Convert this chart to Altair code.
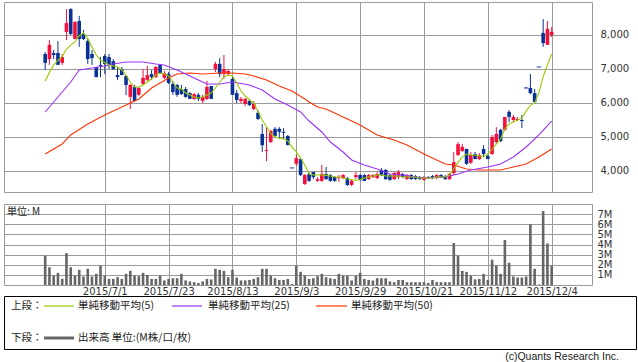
import altair as alt
import pandas as pd

# ---------------- data ----------------
date_labels = ["2015/7/1", "2015/7/23", "2015/8/13", "2015/9/3",
               "2015/9/29", "2015/10/21", "2015/11/12", "2015/12/4"]
tick_index = [14, 29, 44, 59, 74, 89, 104, 119]
price_ticks = [4000, 5000, 6000, 7000, 8000]
volume_ticks = [1, 2, 3, 4, 5, 6, 7]

opens = [7440, 7290, 7470, 7470, 7180, 8090, 8760, 7880, 8410, 8030,
         7820, 7440, 7060, 7120, 7380, 7350, 7230, 6820, 7000, 6790,
         6180, 6470, 6240, 6560, 6680, 6850, 6760, 7120, 6740, 6850,
         6560, 6530, 6410, 6410, 6290, 6120, 6240, 6060, 6120, 6500,
         7000, 7150, 6850, 6850, 6710, 6290, 6060, 5970, 6060, 5820,
         5710, 5090, 4590, 4850, 5240, 5240, 5150, 5030, 4090, 4210,
         4350, 3620, 3910, 3970, 3710, 3710, 3910, 3880, 3820, 3790,
         3790, 3790, 3590, 3820, 3880, 3880, 3760, 3820, 3790, 4030,
         4030, 3880, 3760, 3820, 3910, 3760, 3880, 3850, 3820, 3740,
         3820, 3850, 3790, 3880, 3850, 3760, 3940, 4470, 4590, 4650,
         4240, 4500, 4350, 4650, 4440, 4500, 4850, 5210, 5210, 5740,
         5500, 5500, 5500, 6440, 6440, 6290, 7060, 8060, 7710, 8000]
highs = [7500, 7850, 7560, 7820, 7440, 8760, 8790, 8410, 8560, 8150,
         7880, 7560, 7060, 7350, 7440, 7440, 7290, 7060, 7060, 6820,
         6560, 6530, 6470, 7000, 7090, 6970, 7090, 7150, 6940, 6910,
         6650, 6560, 6530, 6470, 6320, 6290, 6290, 6240, 6650, 6500,
         7210, 7320, 7410, 7000, 6760, 6380, 6180, 6150, 6120, 6060,
         5790, 5380, 5290, 5210, 5290, 5290, 5260, 5060, 4090, 4470,
         4380, 3910, 3970, 3970, 3820, 4180, 4120, 3910, 3850, 3880,
         3910, 3820, 3740, 3970, 3910, 3910, 3910, 3910, 3970, 4090,
         4060, 3910, 3970, 4030, 3940, 3910, 3910, 3880, 3850, 3850,
         3850, 3880, 3910, 3910, 3880, 3940, 4560, 4850, 4790, 4650,
         4560, 4560, 4530, 4760, 4500, 5060, 5290, 5240, 5590, 5790,
         5650, 5590, 5650, 6470, 6850, 6410, 7060, 8470, 8410, 8240]
lows = [6970, 7120, 7290, 7120, 7120, 7850, 8000, 7880, 7650, 7850,
        7150, 7120, 6760, 6760, 6850, 7000, 6970, 6680, 6820, 6230,
        5820, 6030, 6210, 6530, 6650, 6680, 6740, 6850, 6700, 6560,
        6240, 6180, 6240, 6150, 6120, 6090, 6060, 6000, 6090, 6120,
        6910, 6760, 6710, 6820, 6240, 6000, 6000, 5910, 5910, 5790,
        5500, 4560, 4290, 4820, 5000, 4940, 4940, 4760, 4090, 4150,
        3850, 3590, 3680, 3760, 3680, 3680, 3740, 3680, 3680, 3680,
        3760, 3560, 3560, 3760, 3710, 3700, 3740, 3790, 3760, 3850,
        3740, 3710, 3740, 3760, 3790, 3740, 3740, 3740, 3740, 3710,
        3760, 3760, 3760, 3790, 3740, 3740, 3880, 4440, 4560, 4180,
        4210, 4350, 4320, 4410, 4350, 4470, 4790, 4850, 5180, 5440,
        5440, 5470, 5260, 6440, 6260, 6000, 7060, 7650, 7710, 7940]
closes = [7180, 7710, 7410, 7120, 7350, 8350, 8030, 8380, 7880, 7880,
          7290, 7320, 6760, 7090, 7150, 7120, 7000, 6760, 6820, 6530,
          6530, 6060, 6440, 6740, 6820, 6760, 7060, 6880, 6880, 6590,
          6320, 6240, 6260, 6180, 6120, 6260, 6120, 6180, 6470, 6120,
          7150, 6850, 7000, 6940, 6240, 6090, 6120, 6120, 5940, 5970,
          5530, 4760, 4620, 5180, 5030, 5150, 5120, 4760, 4090, 4380,
          3880, 3880, 3710, 3820, 3760, 3910, 3760, 3710, 3710, 3820,
          3880, 3590, 3710, 3880, 3740, 3710, 3880, 3880, 3910, 3880,
          3760, 3740, 3940, 3970, 3820, 3880, 3760, 3760, 3760, 3820,
          3790, 3790, 3880, 3820, 3760, 3910, 4260, 4790, 4710, 4210,
          4470, 4350, 4470, 4500, 4350, 5000, 5090, 4880, 5590, 5590,
          5590, 5530, 5470, 6440, 6290, 6030, 7060, 7760, 8180, 8090]
volumes = [2.9, 1.75, 0.93, 1.2, 0.6, 3.15, 1.75, 0.93, 1.5, 0.84,
           1.6, 0.84, 1.1, 1.9, 0.93, 0.6, 0.6, 0.77, 0.6, 1.1,
           1.4, 0.93, 0.87, 1.2, 1.0, 0.6, 0.6, 0.93, 0.45, 0.6,
           0.67, 0.67, 1.1, 0.45, 0.35, 0.28, 0.2, 0.35, 0.6, 0.55,
           1.6, 1.5, 1.4, 0.77, 1.5, 0.74, 0.45, 0.45, 0.5, 0.6,
           0.77, 1.6, 1.6, 0.93, 0.67, 0.5, 0.5, 0.6, 0.1, 1.9,
           1.3, 0.93, 0.6, 0.67, 0.87, 1.1, 0.77, 0.67, 0.6, 1.1,
           0.93, 0.93, 0.45, 0.93, 1.2, 0.6, 0.5, 0.45, 0.67, 0.67,
           0.67, 0.35, 0.28, 0.5, 0.5, 0.28, 0.28, 0.28, 0.28, 0.28,
           0.2, 0.5, 0.28, 0.28, 0.28, 0.28, 4.15, 2.9, 1.4, 1.3,
           0.93, 0.55, 0.6, 1.1, 0.5, 2.5, 1.9, 1.1, 4.45, 2.2,
           0.84, 0.74, 0.74, 0.84, 6.0, 1.6, 0.05, 7.3, 4.1, 1.9]
ma5 = [6647, 6900, 7120, 7250, 7370, 7588, 7700, 7794, 7980, 8058,
       7900, 7650, 7411, 7264, 7190, 7117, 7088, 7060, 6970, 6823,
       6617, 6470, 6470, 6529, 6617, 6705, 6823, 6882, 6853, 6794,
       6617, 6441, 6411, 6294, 6235, 6176, 6147, 6176, 6235, 6294,
       6441, 6617, 6764, 6823, 6794, 6588, 6353, 6205, 6088, 6000,
       5760, 5500, 5300, 5100, 5000, 4970, 4941, 4882, 4700, 4560,
       4380, 4176, 3911, 3882, 3882, 3882, 3870, 3853, 3823, 3823,
       3794, 3765, 3750, 3720, 3750, 3794, 3823, 3853, 3882, 3882,
       3853, 3853, 3853, 3853, 3823, 3823, 3823, 3823, 3794, 3794,
       3794, 3794, 3823, 3823, 3823, 3882, 4060, 4260, 4410, 4500,
       4470, 4470, 4441, 4411, 4500, 4647, 4794, 4941, 5235, 5382,
       5441, 5500, 5560, 5760, 5930, 6000, 6300, 6780, 7120, 7440]
ma25_index = [0, 2, 6, 8, 11, 14, 16, 19, 23, 26, 28, 31, 33, 36, 38, 41, 44, 48, 51, 54, 57,
              60, 62, 65, 67, 70, 72, 75, 78, 81, 84, 87, 90, 94, 97, 100, 104, 107, 110, 113, 116, 119]
ma25 = [5735, 6029, 6617, 6970, 7029, 7088, 7147, 7205, 7205, 7147, 7117, 6970, 6853, 6676,
        6558, 6558, 6617, 6529, 6382, 6117, 5941, 5735, 5470, 5147, 4853, 4558, 4323, 4176,
        4059, 3911, 3882, 3823, 3794, 3823, 3911, 4029, 4117, 4205, 4411, 4705, 5059, 5470]
ma50_index = [0, 4, 6, 10, 14, 18, 22, 25, 29, 31, 34, 37, 41, 44, 47, 49, 52, 55, 58, 61,
              62, 64, 66, 70, 74, 78, 82, 85, 89, 92, 94, 96, 99, 102, 107, 110, 113, 116, 119]
ma50 = [4500, 4794, 5059, 5382, 5647, 5882, 6117, 6441, 6735, 6853, 6882, 6853, 6882, 6882,
        6853, 6794, 6676, 6500, 6353, 6117, 6029, 5882, 5823, 5588, 5353, 5059, 4911, 4764,
        4500, 4323, 4205, 4176, 4059, 4029, 4029, 4117, 4205, 4411, 4647]

unit_label = "単位: M"
upper_label = "上段："
lower_label = "下段："
ma_labels = ["単純移動平均(5)", "単純移動平均(25)", "単純移動平均(50)"]
volume_label = "出来高 単位:(M株/口/枚)"
credit = "(c)Quants Research Inc."

# ---------------- styles ----------------
RED = "#f5103c"
BLUE = "#0a3296"
GRID = "#9a9a9a"
MA5C = "#99cc00"
MA25C = "#9933ff"
MA50C = "#ff3300"
VOLC = "#666666"
CJK = "Noto Sans CJK JP"
TXT = "#222222"

df = pd.DataFrame({"i": list(range(len(closes))), "open": opens, "high": highs,
                   "low": lows, "close": closes, "vol": volumes, "ma5": ma5})
df["dir"] = ["up" if c > o else "down" for o, c in zip(opens, closes)]
ma25_df = pd.DataFrame({"i": ma25_index, "v": ma25})
ma50_df = pd.DataFrame({"i": ma50_index, "v": ma50})

xscale = alt.Scale(domain=[-8.5, 127.3], nice=False, zero=False)
pscale = alt.Scale(domain=[3382, 8970], nice=False, zero=False)
vscale = alt.Scale(domain=[0, 8], nice=False, zero=True)
color = alt.Color("dir:N", scale=alt.Scale(domain=["up", "down"], range=[RED, BLUE]), legend=None)

x_axis_price = alt.Axis(values=tick_index, labels=False, ticks=False, domain=False, grid=True, title=None)
y_axis_price = alt.Axis(orient="right", values=price_ticks, format=",.0f", labelPadding=8,
                        grid=True, ticks=False, domain=False, title=None)


def px():
    return alt.X("i:Q", scale=xscale, axis=x_axis_price)


def py(field):
    return alt.Y(field, scale=pscale, axis=y_axis_price)


base = alt.Chart(df)
wicks = base.mark_rule(strokeWidth=1, clip=True).encode(x=px(), y=py("low:Q"), y2="high:Q", color=color)
bodies = base.mark_bar(size=3.6, clip=True).encode(x=px(), y=py("open:Q"), y2="close:Q", color=color)
dashes = base.transform_filter("datum.open == datum.close").mark_tick(
    orient="horizontal", size=4.5, thickness=1.3, clip=True).encode(
    x=px(), y=py("close:Q"), color=color)
line50 = alt.Chart(ma50_df).mark_line(color=MA50C, strokeWidth=1.1, clip=True).encode(x=px(), y=py("v:Q"))
line25 = alt.Chart(ma25_df).mark_line(color=MA25C, strokeWidth=1.1, clip=True).encode(x=px(), y=py("v:Q"))
line5 = base.mark_line(color=MA5C, strokeWidth=1.1, clip=True).encode(x=px(), y=py("ma5:Q"))

price_chart = alt.layer(wicks, bodies, dashes, line50, line25, line5).properties(width=588, height=190)

label_expr = "[" + ",".join("'%s'" % d for d in date_labels) + "][indexof(" + str(tick_index) + ", datum.value)]"
x_vol = alt.X("i:Q", scale=xscale, title=None,
              axis=alt.Axis(values=tick_index, labelExpr=label_expr, labelPadding=1, grid=True,
                            ticks=False, domain=False, labelOverlap=False, labelFlush=False))
vbars = base.mark_bar(size=2.6, color=VOLC, clip=True).encode(
    x=x_vol,
    y=alt.Y("vol:Q", scale=vscale, title=None,
            axis=alt.Axis(orient="right", values=volume_ticks, labelExpr="datum.value + 'M'",
                          labelPadding=5, grid=True, ticks=False, domain=False)))


def text_layer(t, x, y, align="left", font=CJK, size=10.5):
    return alt.Chart(pd.DataFrame({"t": [t]})).mark_text(
        align=align, baseline="middle", font=font, fontSize=size, color=TXT).encode(
        x=alt.value(x), y=alt.value(y), text="t:N")


def rule_layer(c, x1, x2, y, w=1.2):
    return alt.Chart(pd.DataFrame({"t": [0]})).mark_rule(color=c, strokeWidth=w).encode(
        x=alt.value(x1), x2=alt.value(x2), y=alt.value(y))


unit_text = text_layer(unit_label, 3, 8, size=10)
box = alt.Chart(pd.DataFrame({"t": [0]})).mark_rect(filled=False, stroke="#000000", strokeWidth=1).encode(
    x=alt.value(0.5), x2=alt.value(632.5), y=alt.value(92.5), y2=alt.value(145.5))

legend_layers = [
    box,
    text_layer(upper_label, 7, 102),
    rule_layer(MA5C, 40, 70, 102),
    text_layer(ma_labels[0], 74, 102),
    rule_layer(MA25C, 168, 198, 102),
    text_layer(ma_labels[1], 204, 102),
    rule_layer(MA50C, 312, 343, 102),
    text_layer(ma_labels[2], 347, 102),
    text_layer(lower_label, 7, 134),
    rule_layer(VOLC, 40, 70, 134, w=3),
    text_layer(volume_label, 74, 134),
    text_layer(credit, 615, 153, align="right", font="Liberation Sans", size=10.5),
]

vol_chart = alt.layer(vbars, unit_text, *legend_layers).properties(width=588, height=81)

chart = alt.vconcat(price_chart, vol_chart, spacing=10).properties(
    padding={"left": 3, "top": 1, "right": 0, "bottom": 0}
).configure_view(stroke=GRID).configure_axis(
    labelFont="DejaVu Sans", labelFontSize=10, labelColor="#333333",
    gridColor=GRID, gridWidth=1
)

chart.save("out.html", embed_options={"renderer": "svg", "actions": False})
